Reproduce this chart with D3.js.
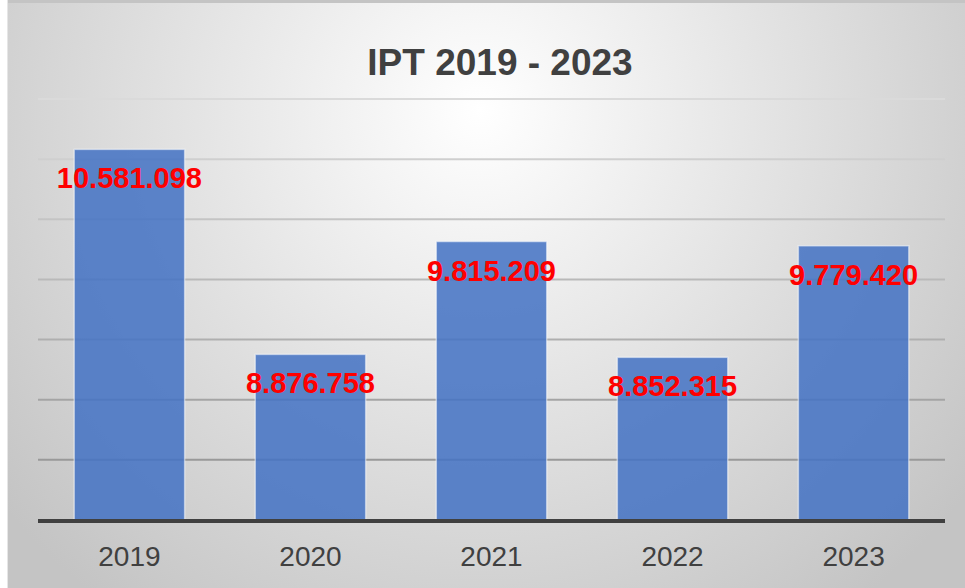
<!DOCTYPE html>
<html>
<head>
<meta charset="utf-8">
<script src="https://cdn.jsdelivr.net/npm/d3@7"></script>
<style>
  body { margin: 0; background: #fff; }
  svg { display: block; font-family: "Liberation Sans", Arial, sans-serif; }
</style>
</head>
<body>
<svg id="chart"></svg>
<script>
// data
const years = ["2019", "2020", "2021", "2022", "2023"];
const ipt = [10581098, 8876758, 9815209, 8852315, 9779420];
const gridValues = [8000000, 8500000, 9000000, 9500000, 10000000, 10500000, 11000000];

const width = 965, height = 588;
const margin = { top: 99, right: 20, bottom: 68, left: 38 };

const svg = d3.select("#chart")
    .attr("width", width)
    .attr("height", height);

// background gradient (light centre, grey edges)
let defs = svg.append("defs");
let bg = defs.append("radialGradient")
    .attr("id", "bg")
    .attr("gradientUnits", "userSpaceOnUse")
    .attr("cx", 480).attr("cy", 110)
    .attr("r", 620);
bg.append("stop").attr("offset", "0%").attr("stop-color", "#ffffff");
bg.append("stop").attr("offset", "100%").attr("stop-color", "#c4c4c4");

svg.append("rect")
    .attr("x", 7).attr("y", 1)
    .attr("width", width - 7).attr("height", height - 1)
    .attr("fill", "url(#bg)");
svg.append("line")
    .attr("x1", 7).attr("x2", width)
    .attr("y1", 1.5).attr("y2", 1.5)
    .attr("stroke", "#c4c4c4").attr("stroke-width", 3);
svg.append("line")
    .attr("x1", 7.5).attr("x2", 7.5)
    .attr("y1", 0).attr("y2", height)
    .attr("stroke", "#e6e6e6").attr("stroke-width", 1);

const x = d3.scaleBand()
    .domain(years)
    .range([margin.left, width - margin.right])
    .paddingInner(0.39)
    .paddingOuter(0.2);

const y = d3.scaleLinear()
    .domain([7500000, 11000000])
    .range([height - margin.bottom, margin.top]);

// gridlines get darker toward the bottom
const gridColor = d3.scaleLinear()
    .domain([margin.top, height - margin.bottom])
    .range(["#dadada", "#8e8e8e"]);

svg.append("g")
    .selectAll("line")
    .data(gridValues)
    .join("line")
    .attr("x1", margin.left)
    .attr("x2", width - margin.right)
    .attr("y1", d => y(d))
    .attr("y2", d => y(d))
    .attr("stroke", d => gridColor(y(d)))
    .attr("stroke-width", 2);

// bars
svg.append("g")
    .selectAll("rect")
    .data(years)
    .join("rect")
    .attr("x", d => x(d))
    .attr("width", x.bandwidth())
    .attr("y", (d, i) => y(ipt[i]))
    .attr("height", (d, i) => y(7500000) - y(ipt[i]))
    .attr("fill", "#4472c4")
    .attr("fill-opacity", 0.86)
    .attr("stroke", "#ffffff")
    .attr("stroke-opacity", 0.5)
    .attr("stroke-width", 1.5);

// baseline
svg.append("line")
    .attr("x1", margin.left)
    .attr("x2", width - margin.right)
    .attr("y1", y(7500000) + 1)
    .attr("y2", y(7500000) + 1)
    .attr("stroke", "#404040")
    .attr("stroke-width", 4);

// x axis labels
const xAxis = d3.axisBottom(x).tickSize(0).tickPadding(0);
const xAxisG = svg.append("g")
    .attr("transform", `translate(0,${height - margin.bottom})`)
    .call(xAxis);
xAxisG.select(".domain").remove();
xAxisG.selectAll("text")
    .attr("y", 46)
    .attr("dy", 0)
    .attr("font-size", "28px")
    .attr("font-family", "Liberation Sans, Arial, sans-serif")
    .attr("fill", "#404040");

// value labels
const fmt = d3.formatLocale({ decimal: ",", thousands: ".", grouping: [3], currency: ["", ""] }).format(",d");
svg.append("g")
    .selectAll("text")
    .data(years)
    .join("text")
    .attr("x", d => x(d) + x.bandwidth() / 2)
    .attr("y", (d, i) => y(ipt[i]) + 39)
    .attr("text-anchor", "middle")
    .attr("font-size", "29px")
    .attr("font-weight", "bold")
    .attr("fill", "#ff0000")
    .text((d, i) => fmt(ipt[i]));

// title
svg.append("text")
    .attr("x", 500)
    .attr("y", 75)
    .attr("text-anchor", "middle")
    .attr("font-size", "37px")
    .attr("font-weight", "bold")
    .attr("fill", "#404040")
    .text("IPT 2019 - 2023");
</script>
</body>
</html>
